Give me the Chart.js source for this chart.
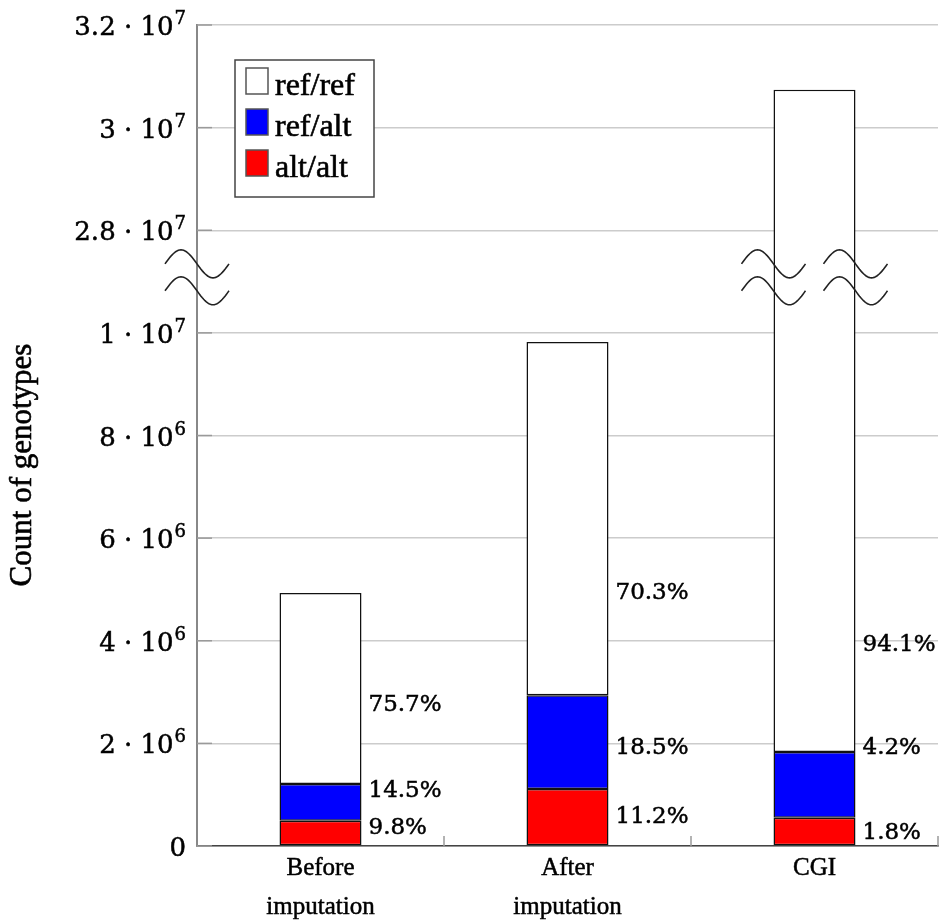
<!DOCTYPE html>
<html>
<head>
<meta charset="utf-8">
<script src="https://cdn.jsdelivr.net/npm/chart.js@4.4.1/dist/chart.umd.min.js"></script>
<style>
  html, body { margin: 0; padding: 0; background: #fff; }
  #wrap { width: 942px; height: 922px; }
</style>
</head>
<body>
<div id="wrap"><canvas id="genotypes"></canvas></div>
<script>
// values
const categories = [['Before', 'imputation'], ['After', 'imputation'], 'CGI'];
const refRef = [3.72e6, 6.88e6, 28.91e6];
const refAlt = [0.72e6, 1.83e6, 1.28e6];
const altAlt = [0.49e6, 1.11e6, 0.55e6];
const pctRefRef = ['75.7%', '70.3%', '94.1%'];
const pctRefAlt = ['14.5%', '18.5%', '4.2%'];
const pctAltAlt = ['9.8%', '11.2%', '1.8%'];
const yTicks = [0, 2e6, 4e6, 6e6, 8e6, 1e7, 2.8e7, 3e7, 3.2e7];

// broken axis: everything from 2.7e7 up is shifted down by GAP
const GAP = 1.6e7;
const UPPER_START = 2.7e7;
const toAxis = v => (v >= UPPER_START ? v - GAP : v);
const fromAxis = a => (a > 1.1e7 ? a + GAP : a);

class BrokenScale extends Chart.LinearScale {
    buildTicks() {
        return yTicks.map(v => ({ value: v }));
    }
    getPixelForValue(v) {
        return super.getPixelForValue(toAxis(v));
    }
    getValueForPixel(p) {
        return fromAxis(super.getValueForPixel(p));
    }
}
BrokenScale.id = 'broken';
Chart.register(BrokenScale);

const SERIF = '"Liberation Serif", "Times New Roman", serif';
const MATH = '"DejaVu Serif", serif';

function tickParts(v) {
    if (v === 0) return ['0', ''];
    const e = Math.floor(Math.log10(v));
    const m = Math.round(v / Math.pow(10, e) * 10) / 10;
    return [m + ' \u00b7 10', String(e)];
}

// text with a thin outline so it looks as heavy as the original
function heavyText(ctx, s, x, y) {
    ctx.fillText(s, x, y);
    ctx.strokeText(s, x, y);
}

const decorations = {
    id: 'decorations',
    afterDatasetsDraw(chart, args, opts) {
        const ctx = chart.ctx;
        const y = chart.scales.y;
        const area = chart.chartArea;

        // percentage labels right of each bar
        ctx.save();
        ctx.font = '23px ' + MATH;
        ctx.fillStyle = '#000';
        ctx.strokeStyle = '#000';
        ctx.lineWidth = 0.5;
        ctx.textBaseline = 'middle';
        ctx.textAlign = 'left';
        chart.data.datasets.forEach((ds, di) => {
            const meta = chart.getDatasetMeta(di);
            meta.data.forEach((bar, i) => {
                const px = bar.x + bar.width / 2 + 7;
                heavyText(ctx, ds.pct[i], px, y.getPixelForValue(opts.labelAt[ds.label][i]));
            });
        });
        ctx.restore();

        // break marks on axis and on the tall bar
        const top = chart.getDatasetMeta(2).data[2];
        const xs = [area.left, top.x - top.width / 2, top.x + top.width / 2];
        ctx.save();
        ctx.strokeStyle = '#222';
        ctx.lineWidth = 1.6;
        xs.forEach(cx => {
            opts.breakMarks.forEach(v => {
                const cy = y.getPixelForValue(v);
                ctx.beginPath();
                for (let k = 0; k <= 48; k++) {
                    const t = k / 48;
                    const px = cx - 32 + 64 * t;
                    const py = cy - 14 * Math.sin(2 * Math.PI * t);
                    if (k === 0) ctx.moveTo(px, py); else ctx.lineTo(px, py);
                }
                ctx.stroke();
            });
        });
        ctx.restore();
    },
    afterDraw(chart) {
        const ctx = chart.ctx;
        const y = chart.scales.y;
        const x = chart.scales.x;
        const area = chart.chartArea;

        // inward tick marks
        ctx.save();
        ctx.strokeStyle = '#9a9a9a';
        ctx.lineWidth = 1.5;
        y.ticks.forEach(t => {
            const py = y.getPixelForValue(t.value);
            ctx.beginPath();
            ctx.moveTo(area.left, py);
            ctx.lineTo(area.left + 15, py);
            ctx.stroke();
        });
        for (let i = 0; i < categories.length; i++) {
            const px = x.getPixelForValue(i + 0.5);
            ctx.beginPath();
            ctx.moveTo(px, area.bottom);
            ctx.lineTo(px, area.bottom - 10);
            ctx.stroke();
        }
        ctx.restore();

        // y tick labels with superscript exponents
        ctx.save();
        ctx.fillStyle = '#000';
        ctx.strokeStyle = '#000';
        ctx.lineWidth = 0.5;
        ctx.textBaseline = 'alphabetic';
        ctx.textAlign = 'right';
        y.ticks.forEach(t => {
            const py = y.getPixelForValue(t.value);
            const [base, sup] = tickParts(t.value);
            let right = area.left - 11;
            if (sup) {
                ctx.font = '18px ' + MATH;
                heavyText(ctx, sup, right, py - 1);
                right -= ctx.measureText(sup).width + 1;
            }
            ctx.font = '26px ' + MATH;
            heavyText(ctx, base, right, py + 10);
        });
        ctx.restore();

        // axis title
        ctx.save();
        ctx.translate(23, 465);
        ctx.rotate(-Math.PI / 2);
        ctx.font = '31px ' + SERIF;
        ctx.fillStyle = '#000';
        ctx.strokeStyle = '#000';
        ctx.lineWidth = 0.6;
        ctx.textAlign = 'center';
        ctx.textBaseline = 'middle';
        heavyText(ctx, 'Count of genotypes', 0, 0);
        ctx.restore();

        // legend box
        const lx = area.left + 38, ly = area.top + 35;
        ctx.save();
        ctx.fillStyle = '#fff';
        ctx.fillRect(lx, ly, 139, 137);
        ctx.strokeStyle = '#444';
        ctx.lineWidth = 1.5;
        ctx.strokeRect(lx, ly, 139, 137);
        const items = chart.data.datasets.slice().reverse();
        ctx.font = '32px ' + SERIF;
        ctx.textBaseline = 'alphabetic';
        ctx.textAlign = 'left';
        items.forEach((ds, i) => {
            const sy = ly + 8 + i * 41;
            ctx.fillStyle = ds.backgroundColor;
            ctx.fillRect(lx + 11, sy, 22, 26);
            ctx.strokeStyle = '#555';
            ctx.lineWidth = 1.5;
            ctx.strokeRect(lx + 11, sy, 22, 26);
            ctx.fillStyle = '#000';
            ctx.strokeStyle = '#000';
            ctx.lineWidth = 0.6;
            heavyText(ctx, ds.label, lx + 40, sy + 27);
        });
        ctx.restore();
    }
};

const barStyle = { borderColor: '#111', borderWidth: 1.5, borderSkipped: false,
                   barPercentage: 0.332, categoryPercentage: 1 };

new Chart(document.getElementById('genotypes'), {
    type: 'bar',
    data: {
        labels: categories,
        datasets: [
            Object.assign({ label: 'alt/alt', data: altAlt, pct: pctAltAlt, backgroundColor: '#ff0000' }, barStyle),
            Object.assign({ label: 'ref/alt', data: refAlt, pct: pctRefAlt, backgroundColor: '#0000ff' }, barStyle),
            Object.assign({ label: 'ref/ref', data: refRef, pct: pctRefRef, backgroundColor: '#ffffff' }, barStyle)
        ]
    },
    options: {
        responsive: true,
        maintainAspectRatio: false,
        animation: false,
        layout: { padding: { top: 25, right: 4, left: 0, bottom: 0 } },
        scales: {
            x: {
                stacked: true,
                grid: { display: false, tickLength: 0 },
                border: { display: true, color: '#444', width: 1.5 },
                ticks: { color: '#000', padding: 3, textStrokeColor: '#000', textStrokeWidth: 0.5,
                         font: { family: SERIF, size: 25, lineHeight: 1.56 } },
                afterFit(s) { s.height = 76; }
            },
            y: {
                type: 'broken',
                stacked: true,
                min: 0,
                max: 1.6e7,
                grid: { color: '#cccccc', lineWidth: 1.5, drawTicks: false },
                border: { display: true, color: '#888', width: 2 },
                ticks: { display: false },
                afterFit(s) { s.width = 197; }
            }
        },
        plugins: {
            legend: { display: false },
            tooltip: { enabled: false },
            decorations: {
                breakMarks: [1.082e7, 2.7345e7],
                labelAt: {
                    'ref/ref': [2.75e6, 4.93e6, 3.92e6],
                    'ref/alt': [1.07e6, 1.91e6, 1.91e6],
                    'alt/alt': [0.35e6, 0.565e6, 0.25e6]
                }
            }
        }
    },
    plugins: [decorations]
});
</script>
</body>
</html>
